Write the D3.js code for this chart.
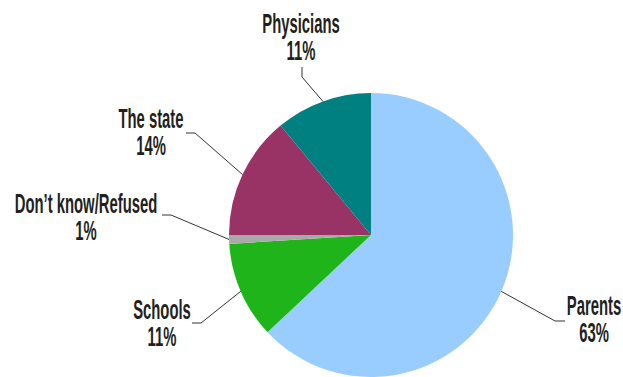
<!DOCTYPE html>
<html>
<head>
<meta charset="utf-8">
<script src="https://cdn.jsdelivr.net/npm/d3@7"></script>
<style>
  html, body { margin: 0; padding: 0; background: #fff; }
  svg { display: block; }
  .lbl { font-family: "Liberation Sans", Arial, sans-serif; font-weight: bold; font-size: 28px; fill: #231f20; }
</style>
</head>
<body>
<svg id="chart" width="623" height="377"></svg>
<script>
// Who should decide: share of responses
const categories = ["Parents", "Schools", "Don\u2019t know/Refused", "The state", "Physicians"];
const shares = [63, 11, 1, 14, 11];
const valueLabels = ["63%", "11%", "1%", "14%", "11%"];
const colors = ["#99ccff", "#1fb51a", "#a9a9a9", "#993366", "#008080"];

// Label placement: elbow point of each leader and the text anchor
const elbows = [[555, 321], [201, 323], [171, 215], [195, 133], [302, 77]];
const elbowEnds = [[565, 321], [192, 323], [162, 215], [186, 133], [302, 67]];
const textAnchors = [[594, 315], [162, 319], [86, 213], [151, 128], [301, 33]];

const width = 623, height = 377;
const cx = 371, cy = 235, radius = 142;
const lineGap = 27;
const squeeze = 0.53;   // condensed look for the labels

const svg = d3.select("#chart");
const g = svg.append("g").attr("transform", `translate(${cx},${cy})`);

const pie = d3.pie().sort(null).value(d => d)(shares);
const arc = d3.arc().innerRadius(0).outerRadius(radius);

g.selectAll("path.slice")
  .data(pie)
  .join("path")
  .attr("class", "slice")
  .attr("d", arc)
  .attr("fill", (d, i) => colors[i]);

// Leader lines from the rim at each slice's mid-angle
const rimPoint = d => {
  const a = (d.startAngle + d.endAngle) / 2;
  return [cx + radius * Math.sin(a), cy - radius * Math.cos(a)];
};

svg.selectAll("polyline.leader")
  .data(pie)
  .join("polyline")
  .attr("class", "leader")
  .attr("points", (d, i) => [rimPoint(d), elbows[i], elbowEnds[i]].map(p => p.join(",")).join(" "))
  .attr("fill", "none")
  .attr("stroke", "#333")
  .attr("stroke-width", 1);

const labels = svg.selectAll("g.label")
  .data(pie)
  .join("g")
  .attr("class", "label")
  .attr("transform", (d, i) => `translate(${textAnchors[i][0]},${textAnchors[i][1]}) scale(${squeeze},1)`);

labels.append("text")
  .attr("class", "lbl")
  .attr("text-anchor", "middle")
  .text((d, i) => categories[i]);

labels.append("text")
  .attr("class", "lbl")
  .attr("text-anchor", "middle")
  .attr("y", lineGap)
  .text((d, i) => valueLabels[i]);
</script>
</body>
</html>
